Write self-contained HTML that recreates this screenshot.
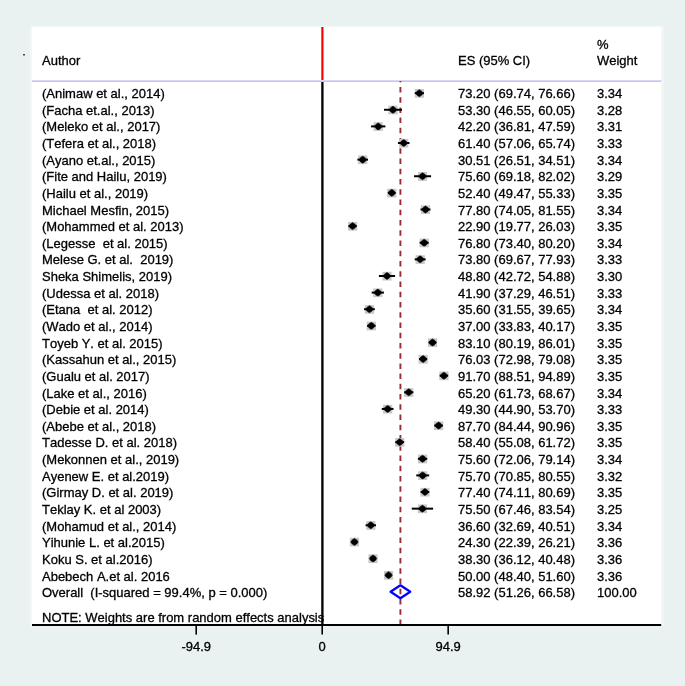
<!DOCTYPE html>
<html><head><meta charset="utf-8"><title>Forest plot</title><style>
html,body{margin:0;padding:0;width:685px;height:686px;overflow:hidden;background:#eaf1f1;}
svg{display:block;will-change:transform;}
text{font-family:"Liberation Sans",sans-serif;font-size:13px;fill:#000;white-space:pre;font-kerning:none;stroke:#000;stroke-width:0.3px;}
</style></head><body>
<svg width="685" height="686" viewBox="0 0 685 686">
<rect x="0" y="0" width="685" height="686" fill="#eaf1f1"/>
<rect x="30" y="25.5" width="633.7" height="601" fill="#f1f7f7"/>
<rect x="32" y="27" width="629.2" height="598" fill="#fff"/>
<rect x="23" y="54" width="2" height="1.5" fill="#404080"/>
<text transform="translate(42.00 65.00) scale(1 1.035)">Author</text>
<text transform="translate(458.00 65.00) scale(1 1.035)">ES (95% CI)</text>
<text transform="translate(597.00 49.00) scale(1 1.035)">%</text>
<text transform="translate(597.00 65.00) scale(1 1.035)">Weight</text>
<rect x="32" y="80" width="629.2" height="1" fill="#d8d8f4"/>
<rect x="32" y="81" width="629.2" height="1" fill="#c9c9d0"/>
<line x1="322.4" y1="27" x2="322.4" y2="80" stroke="#ff0000" stroke-width="2.2"/>
<line x1="322.4" y1="82" x2="322.4" y2="625" stroke="#8a2828" stroke-width="2.5"/>
<line x1="322.4" y1="82" x2="322.4" y2="625" stroke="#000" stroke-width="1.5"/>
<line x1="400.416" y1="81" x2="400.416" y2="625" stroke="#982c34" stroke-width="1.9" stroke-dasharray="5.5 4.74" stroke-dashoffset="4.34"/>
<rect x="414.77" y="89.00" width="9.2" height="8.7" fill="#c8c8c8"/>
<line x1="414.78" y1="93.15" x2="423.97" y2="93.15" stroke="#000" stroke-width="2"/>
<path d="M419.37 89.65Q421.96 90.70 423.07 93.15Q421.96 95.60 419.37 96.65Q416.78 95.60 415.67 93.15Q416.78 90.70 419.37 89.65Z" fill="#000" stroke="#000" stroke-width="0.6" stroke-linejoin="round"/>
<text transform="translate(42.00 98.10) scale(1 1.035)">(Animaw et al., 2014)</text>
<text transform="translate(458.00 98.10) scale(1 1.035)">73.20 (69.74, 76.66)</text>
<text transform="translate(597.00 98.10) scale(1 1.035)">3.34</text>
<rect x="388.36" y="105.62" width="9.2" height="8.7" fill="#c8c8c8"/>
<line x1="384.00" y1="109.77" x2="401.92" y2="109.77" stroke="#000" stroke-width="2"/>
<path d="M392.96 106.27Q395.55 107.32 396.66 109.77Q395.55 112.22 392.96 113.27Q390.37 112.22 389.26 109.77Q390.37 107.32 392.96 106.27Z" fill="#000" stroke="#000" stroke-width="0.6" stroke-linejoin="round"/>
<text transform="translate(42.00 114.74) scale(1 1.035)">(Facha et.al., 2013)</text>
<text transform="translate(458.00 114.74) scale(1 1.035)">53.30 (46.55, 60.05)</text>
<text transform="translate(597.00 114.74) scale(1 1.035)">3.28</text>
<rect x="373.62" y="122.24" width="9.2" height="8.7" fill="#c8c8c8"/>
<line x1="371.07" y1="126.39" x2="385.38" y2="126.39" stroke="#000" stroke-width="2"/>
<path d="M378.22 122.89Q380.81 123.94 381.92 126.39Q380.81 128.84 378.22 129.89Q375.63 128.84 374.52 126.39Q375.63 123.94 378.22 122.89Z" fill="#000" stroke="#000" stroke-width="0.6" stroke-linejoin="round"/>
<text transform="translate(42.00 131.37) scale(1 1.035)">(Meleko et al., 2017)</text>
<text transform="translate(458.00 131.37) scale(1 1.035)">42.20 (36.81, 47.59)</text>
<text transform="translate(597.00 131.37) scale(1 1.035)">3.31</text>
<rect x="399.11" y="138.86" width="9.2" height="8.7" fill="#c8c8c8"/>
<line x1="397.95" y1="143.01" x2="409.47" y2="143.01" stroke="#000" stroke-width="2"/>
<path d="M403.71 139.51Q406.30 140.56 407.41 143.01Q406.30 145.46 403.71 146.51Q401.12 145.46 400.01 143.01Q401.12 140.56 403.71 139.51Z" fill="#000" stroke="#000" stroke-width="0.6" stroke-linejoin="round"/>
<text transform="translate(42.00 148.00) scale(1 1.035)">(Tefera et al., 2018)</text>
<text transform="translate(458.00 148.00) scale(1 1.035)">61.40 (57.06, 65.74)</text>
<text transform="translate(597.00 148.00) scale(1 1.035)">3.33</text>
<rect x="358.10" y="155.48" width="9.2" height="8.7" fill="#c8c8c8"/>
<line x1="357.39" y1="159.63" x2="368.01" y2="159.63" stroke="#000" stroke-width="2"/>
<path d="M362.70 156.13Q365.29 157.18 366.40 159.63Q365.29 162.08 362.70 163.13Q360.11 162.08 359.00 159.63Q360.11 157.18 362.70 156.13Z" fill="#000" stroke="#000" stroke-width="0.6" stroke-linejoin="round"/>
<text transform="translate(42.00 164.64) scale(1 1.035)">(Ayano et.al., 2015)</text>
<text transform="translate(458.00 164.64) scale(1 1.035)">30.51 (26.51, 34.51)</text>
<text transform="translate(597.00 164.64) scale(1 1.035)">3.34</text>
<rect x="417.96" y="172.10" width="9.2" height="8.7" fill="#c8c8c8"/>
<line x1="414.04" y1="176.25" x2="431.08" y2="176.25" stroke="#000" stroke-width="2"/>
<path d="M422.56 172.75Q425.15 173.80 426.26 176.25Q425.15 178.70 422.56 179.75Q419.97 178.70 418.86 176.25Q419.97 173.80 422.56 172.75Z" fill="#000" stroke="#000" stroke-width="0.6" stroke-linejoin="round"/>
<text transform="translate(42.00 181.28) scale(1 1.035)">(Fite and Hailu, 2019)</text>
<text transform="translate(458.00 181.28) scale(1 1.035)">75.60 (69.18, 82.02)</text>
<text transform="translate(597.00 181.28) scale(1 1.035)">3.29</text>
<rect x="387.16" y="188.72" width="9.2" height="8.7" fill="#c8c8c8"/>
<line x1="387.87" y1="192.87" x2="395.65" y2="192.87" stroke="#000" stroke-width="2"/>
<path d="M391.76 189.37Q394.35 190.42 395.46 192.87Q394.35 195.32 391.76 196.37Q389.17 195.32 388.06 192.87Q389.17 190.42 391.76 189.37Z" fill="#000" stroke="#000" stroke-width="0.6" stroke-linejoin="round"/>
<text transform="translate(42.00 197.91) scale(1 1.035)">(Hailu et al., 2019)</text>
<text transform="translate(458.00 197.91) scale(1 1.035)">52.40 (49.47, 55.33)</text>
<text transform="translate(597.00 197.91) scale(1 1.035)">3.35</text>
<rect x="420.88" y="205.34" width="9.2" height="8.7" fill="#c8c8c8"/>
<line x1="420.50" y1="209.49" x2="430.46" y2="209.49" stroke="#000" stroke-width="2"/>
<path d="M425.48 205.99Q428.07 207.04 429.18 209.49Q428.07 211.94 425.48 212.99Q422.89 211.94 421.78 209.49Q422.89 207.04 425.48 205.99Z" fill="#000" stroke="#000" stroke-width="0.6" stroke-linejoin="round"/>
<text transform="translate(42.00 214.55) scale(1 1.035)">Michael Mesfin, 2015)</text>
<text transform="translate(458.00 214.55) scale(1 1.035)">77.80 (74.05, 81.55)</text>
<text transform="translate(597.00 214.55) scale(1 1.035)">3.34</text>
<rect x="348.00" y="221.96" width="9.2" height="8.7" fill="#c8c8c8"/>
<line x1="348.44" y1="226.11" x2="356.75" y2="226.11" stroke="#000" stroke-width="2"/>
<path d="M352.60 222.61Q355.19 223.66 356.30 226.11Q355.19 228.56 352.60 229.61Q350.01 228.56 348.90 226.11Q350.01 223.66 352.60 222.61Z" fill="#000" stroke="#000" stroke-width="0.6" stroke-linejoin="round"/>
<text transform="translate(42.00 231.18) scale(1 1.035)">(Mohammed et al. 2013)</text>
<text transform="translate(458.00 231.18) scale(1 1.035)">22.90 (19.77, 26.03)</text>
<text transform="translate(597.00 231.18) scale(1 1.035)">3.35</text>
<rect x="419.55" y="238.58" width="9.2" height="8.7" fill="#c8c8c8"/>
<line x1="419.64" y1="242.73" x2="428.67" y2="242.73" stroke="#000" stroke-width="2"/>
<path d="M424.15 239.23Q426.74 240.28 427.85 242.73Q426.74 245.18 424.15 246.23Q421.56 245.18 420.45 242.73Q421.56 240.28 424.15 239.23Z" fill="#000" stroke="#000" stroke-width="0.6" stroke-linejoin="round"/>
<text transform="translate(42.00 247.81) scale(1 1.035)">(Legesse  et al. 2015)</text>
<text transform="translate(458.00 247.81) scale(1 1.035)">76.80 (73.40, 80.20)</text>
<text transform="translate(597.00 247.81) scale(1 1.035)">3.34</text>
<rect x="415.57" y="255.20" width="9.2" height="8.7" fill="#c8c8c8"/>
<line x1="414.69" y1="259.35" x2="425.65" y2="259.35" stroke="#000" stroke-width="2"/>
<path d="M420.17 255.85Q422.76 256.90 423.87 259.35Q422.76 261.80 420.17 262.85Q417.58 261.80 416.47 259.35Q417.58 256.90 420.17 255.85Z" fill="#000" stroke="#000" stroke-width="0.6" stroke-linejoin="round"/>
<text transform="translate(42.00 264.45) scale(1 1.035)">Melese G. et al.  2019)</text>
<text transform="translate(458.00 264.45) scale(1 1.035)">73.80 (69.67, 77.93)</text>
<text transform="translate(597.00 264.45) scale(1 1.035)">3.33</text>
<rect x="382.38" y="271.82" width="9.2" height="8.7" fill="#c8c8c8"/>
<line x1="378.91" y1="275.97" x2="395.05" y2="275.97" stroke="#000" stroke-width="2"/>
<path d="M386.98 272.47Q389.57 273.52 390.68 275.97Q389.57 278.42 386.98 279.47Q384.39 278.42 383.28 275.97Q384.39 273.52 386.98 272.47Z" fill="#000" stroke="#000" stroke-width="0.6" stroke-linejoin="round"/>
<text transform="translate(42.00 281.08) scale(1 1.035)">Sheka Shimelis, 2019)</text>
<text transform="translate(458.00 281.08) scale(1 1.035)">48.80 (42.72, 54.88)</text>
<text transform="translate(597.00 281.08) scale(1 1.035)">3.30</text>
<rect x="373.22" y="288.44" width="9.2" height="8.7" fill="#c8c8c8"/>
<line x1="371.70" y1="292.59" x2="383.94" y2="292.59" stroke="#000" stroke-width="2"/>
<path d="M377.82 289.09Q380.41 290.14 381.52 292.59Q380.41 295.04 377.82 296.09Q375.23 295.04 374.12 292.59Q375.23 290.14 377.82 289.09Z" fill="#000" stroke="#000" stroke-width="0.6" stroke-linejoin="round"/>
<text transform="translate(42.00 297.72) scale(1 1.035)">(Udessa et al. 2018)</text>
<text transform="translate(458.00 297.72) scale(1 1.035)">41.90 (37.29, 46.51)</text>
<text transform="translate(597.00 297.72) scale(1 1.035)">3.33</text>
<rect x="364.86" y="305.06" width="9.2" height="8.7" fill="#c8c8c8"/>
<line x1="364.08" y1="309.21" x2="374.84" y2="309.21" stroke="#000" stroke-width="2"/>
<path d="M369.46 305.71Q372.05 306.76 373.16 309.21Q372.05 311.66 369.46 312.71Q366.87 311.66 365.76 309.21Q366.87 306.76 369.46 305.71Z" fill="#000" stroke="#000" stroke-width="0.6" stroke-linejoin="round"/>
<text transform="translate(42.00 314.36) scale(1 1.035)">(Etana  et al. 2012)</text>
<text transform="translate(458.00 314.36) scale(1 1.035)">35.60 (31.55, 39.65)</text>
<text transform="translate(597.00 314.36) scale(1 1.035)">3.34</text>
<rect x="366.72" y="321.68" width="9.2" height="8.7" fill="#c8c8c8"/>
<line x1="367.11" y1="325.83" x2="375.53" y2="325.83" stroke="#000" stroke-width="2"/>
<path d="M371.32 322.33Q373.91 323.38 375.02 325.83Q373.91 328.28 371.32 329.33Q368.73 328.28 367.62 325.83Q368.73 323.38 371.32 322.33Z" fill="#000" stroke="#000" stroke-width="0.6" stroke-linejoin="round"/>
<text transform="translate(42.00 330.99) scale(1 1.035)">(Wado et al., 2014)</text>
<text transform="translate(458.00 330.99) scale(1 1.035)">37.00 (33.83, 40.17)</text>
<text transform="translate(597.00 330.99) scale(1 1.035)">3.35</text>
<rect x="427.92" y="338.30" width="9.2" height="8.7" fill="#c8c8c8"/>
<line x1="428.65" y1="342.45" x2="436.38" y2="342.45" stroke="#000" stroke-width="2"/>
<path d="M432.52 338.95Q435.11 340.00 436.22 342.45Q435.11 344.90 432.52 345.95Q429.93 344.90 428.82 342.45Q429.93 340.00 432.52 338.95Z" fill="#000" stroke="#000" stroke-width="0.6" stroke-linejoin="round"/>
<text transform="translate(42.00 347.63) scale(1 1.035)">Toyeb Y. et al. 2015)</text>
<text transform="translate(458.00 347.63) scale(1 1.035)">83.10 (80.19, 86.01)</text>
<text transform="translate(597.00 347.63) scale(1 1.035)">3.35</text>
<rect x="418.53" y="354.92" width="9.2" height="8.7" fill="#c8c8c8"/>
<line x1="419.08" y1="359.07" x2="427.18" y2="359.07" stroke="#000" stroke-width="2"/>
<path d="M423.13 355.57Q425.72 356.62 426.83 359.07Q425.72 361.52 423.13 362.57Q420.54 361.52 419.43 359.07Q420.54 356.62 423.13 355.57Z" fill="#000" stroke="#000" stroke-width="0.6" stroke-linejoin="round"/>
<text transform="translate(42.00 364.26) scale(1 1.035)">(Kassahun et al., 2015)</text>
<text transform="translate(458.00 364.26) scale(1 1.035)">76.03 (72.98, 79.08)</text>
<text transform="translate(597.00 364.26) scale(1 1.035)">3.35</text>
<rect x="439.33" y="371.54" width="9.2" height="8.7" fill="#c8c8c8"/>
<line x1="439.70" y1="375.69" x2="448.17" y2="375.69" stroke="#000" stroke-width="2"/>
<path d="M443.93 372.19Q446.52 373.24 447.63 375.69Q446.52 378.14 443.93 379.19Q441.34 378.14 440.23 375.69Q441.34 373.24 443.93 372.19Z" fill="#000" stroke="#000" stroke-width="0.6" stroke-linejoin="round"/>
<text transform="translate(42.00 380.90) scale(1 1.035)">(Gualu et al. 2017)</text>
<text transform="translate(458.00 380.90) scale(1 1.035)">91.70 (88.51, 94.89)</text>
<text transform="translate(597.00 380.90) scale(1 1.035)">3.35</text>
<rect x="404.15" y="388.16" width="9.2" height="8.7" fill="#c8c8c8"/>
<line x1="404.15" y1="392.31" x2="413.36" y2="392.31" stroke="#000" stroke-width="2"/>
<path d="M408.75 388.81Q411.34 389.86 412.45 392.31Q411.34 394.76 408.75 395.81Q406.16 394.76 405.05 392.31Q406.16 389.86 408.75 388.81Z" fill="#000" stroke="#000" stroke-width="0.6" stroke-linejoin="round"/>
<text transform="translate(42.00 397.53) scale(1 1.035)">(Lake et al., 2016)</text>
<text transform="translate(458.00 397.53) scale(1 1.035)">65.20 (61.73, 68.67)</text>
<text transform="translate(597.00 397.53) scale(1 1.035)">3.34</text>
<rect x="383.05" y="404.78" width="9.2" height="8.7" fill="#c8c8c8"/>
<line x1="381.80" y1="408.93" x2="393.49" y2="408.93" stroke="#000" stroke-width="2"/>
<path d="M387.65 405.43Q390.24 406.48 391.35 408.93Q390.24 411.38 387.65 412.43Q385.06 411.38 383.95 408.93Q385.06 406.48 387.65 405.43Z" fill="#000" stroke="#000" stroke-width="0.6" stroke-linejoin="round"/>
<text transform="translate(42.00 414.17) scale(1 1.035)">(Debie et al. 2014)</text>
<text transform="translate(458.00 414.17) scale(1 1.035)">49.30 (44.90, 53.70)</text>
<text transform="translate(597.00 414.17) scale(1 1.035)">3.33</text>
<rect x="434.02" y="421.40" width="9.2" height="8.7" fill="#c8c8c8"/>
<line x1="434.29" y1="425.55" x2="442.95" y2="425.55" stroke="#000" stroke-width="2"/>
<path d="M438.62 422.05Q441.21 423.10 442.32 425.55Q441.21 428.00 438.62 429.05Q436.03 428.00 434.92 425.55Q436.03 423.10 438.62 422.05Z" fill="#000" stroke="#000" stroke-width="0.6" stroke-linejoin="round"/>
<text transform="translate(42.00 430.80) scale(1 1.035)">(Abebe et al., 2018)</text>
<text transform="translate(458.00 430.80) scale(1 1.035)">87.70 (84.44, 90.96)</text>
<text transform="translate(597.00 430.80) scale(1 1.035)">3.35</text>
<rect x="395.13" y="438.02" width="9.2" height="8.7" fill="#c8c8c8"/>
<line x1="395.32" y1="442.17" x2="404.13" y2="442.17" stroke="#000" stroke-width="2"/>
<path d="M399.73 438.67Q402.32 439.72 403.43 442.17Q402.32 444.62 399.73 445.67Q397.14 444.62 396.03 442.17Q397.14 439.72 399.73 438.67Z" fill="#000" stroke="#000" stroke-width="0.6" stroke-linejoin="round"/>
<text transform="translate(42.00 447.44) scale(1 1.035)">Tadesse D. et al. 2018)</text>
<text transform="translate(458.00 447.44) scale(1 1.035)">58.40 (55.08, 61.72)</text>
<text transform="translate(597.00 447.44) scale(1 1.035)">3.35</text>
<rect x="417.96" y="454.64" width="9.2" height="8.7" fill="#c8c8c8"/>
<line x1="417.86" y1="458.79" x2="427.26" y2="458.79" stroke="#000" stroke-width="2"/>
<path d="M422.56 455.29Q425.15 456.34 426.26 458.79Q425.15 461.24 422.56 462.29Q419.97 461.24 418.86 458.79Q419.97 456.34 422.56 455.29Z" fill="#000" stroke="#000" stroke-width="0.6" stroke-linejoin="round"/>
<text transform="translate(42.00 464.07) scale(1 1.035)">(Mekonnen et al., 2019)</text>
<text transform="translate(458.00 464.07) scale(1 1.035)">75.60 (72.06, 79.14)</text>
<text transform="translate(597.00 464.07) scale(1 1.035)">3.34</text>
<rect x="418.09" y="471.26" width="9.2" height="8.7" fill="#c8c8c8"/>
<line x1="416.25" y1="475.41" x2="429.13" y2="475.41" stroke="#000" stroke-width="2"/>
<path d="M422.69 471.91Q425.28 472.96 426.39 475.41Q425.28 477.86 422.69 478.91Q420.10 477.86 418.99 475.41Q420.10 472.96 422.69 471.91Z" fill="#000" stroke="#000" stroke-width="0.6" stroke-linejoin="round"/>
<text transform="translate(42.00 480.70) scale(1 1.035)">Ayenew E. et al.2019)</text>
<text transform="translate(458.00 480.70) scale(1 1.035)">75.70 (70.85, 80.55)</text>
<text transform="translate(597.00 480.70) scale(1 1.035)">3.32</text>
<rect x="420.35" y="487.88" width="9.2" height="8.7" fill="#c8c8c8"/>
<line x1="420.58" y1="492.03" x2="429.32" y2="492.03" stroke="#000" stroke-width="2"/>
<path d="M424.95 488.53Q427.54 489.58 428.65 492.03Q427.54 494.48 424.95 495.53Q422.36 494.48 421.25 492.03Q422.36 489.58 424.95 488.53Z" fill="#000" stroke="#000" stroke-width="0.6" stroke-linejoin="round"/>
<text transform="translate(42.00 497.34) scale(1 1.035)">(Girmay D. et al. 2019)</text>
<text transform="translate(458.00 497.34) scale(1 1.035)">77.40 (74.11, 80.69)</text>
<text transform="translate(597.00 497.34) scale(1 1.035)">3.35</text>
<rect x="417.83" y="504.50" width="9.2" height="8.7" fill="#c8c8c8"/>
<line x1="411.75" y1="508.65" x2="433.10" y2="508.65" stroke="#000" stroke-width="2"/>
<path d="M422.43 505.15Q425.02 506.20 426.13 508.65Q425.02 511.10 422.43 512.15Q419.84 511.10 418.73 508.65Q419.84 506.20 422.43 505.15Z" fill="#000" stroke="#000" stroke-width="0.6" stroke-linejoin="round"/>
<text transform="translate(42.00 513.98) scale(1 1.035)">Teklay K. et al 2003)</text>
<text transform="translate(458.00 513.98) scale(1 1.035)">75.50 (67.46, 83.54)</text>
<text transform="translate(597.00 513.98) scale(1 1.035)">3.25</text>
<rect x="366.19" y="521.12" width="9.2" height="8.7" fill="#c8c8c8"/>
<line x1="365.60" y1="525.27" x2="375.98" y2="525.27" stroke="#000" stroke-width="2"/>
<path d="M370.79 521.77Q373.38 522.82 374.49 525.27Q373.38 527.72 370.79 528.77Q368.20 527.72 367.09 525.27Q368.20 522.82 370.79 521.77Z" fill="#000" stroke="#000" stroke-width="0.6" stroke-linejoin="round"/>
<text transform="translate(42.00 530.61) scale(1 1.035)">(Mohamud et al., 2014)</text>
<text transform="translate(458.00 530.61) scale(1 1.035)">36.60 (32.69, 40.51)</text>
<text transform="translate(597.00 530.61) scale(1 1.035)">3.34</text>
<rect x="349.86" y="537.74" width="9.2" height="8.7" fill="#c8c8c8"/>
<line x1="351.92" y1="541.89" x2="356.99" y2="541.89" stroke="#000" stroke-width="2"/>
<path d="M354.46 538.39Q357.05 539.44 358.16 541.89Q357.05 544.34 354.46 545.39Q351.87 544.34 350.76 541.89Q351.87 539.44 354.46 538.39Z" fill="#000" stroke="#000" stroke-width="0.6" stroke-linejoin="round"/>
<text transform="translate(42.00 547.25) scale(1 1.035)">Yihunie L. et al.2015)</text>
<text transform="translate(458.00 547.25) scale(1 1.035)">24.30 (22.39, 26.21)</text>
<text transform="translate(597.00 547.25) scale(1 1.035)">3.36</text>
<rect x="368.44" y="554.36" width="9.2" height="8.7" fill="#c8c8c8"/>
<line x1="370.15" y1="558.51" x2="375.94" y2="558.51" stroke="#000" stroke-width="2"/>
<path d="M373.04 555.01Q375.63 556.06 376.74 558.51Q375.63 560.96 373.04 562.01Q370.45 560.96 369.34 558.51Q370.45 556.06 373.04 555.01Z" fill="#000" stroke="#000" stroke-width="0.6" stroke-linejoin="round"/>
<text transform="translate(42.00 563.88) scale(1 1.035)">Koku S. et al.2016)</text>
<text transform="translate(458.00 563.88) scale(1 1.035)">38.30 (36.12, 40.48)</text>
<text transform="translate(597.00 563.88) scale(1 1.035)">3.36</text>
<rect x="383.97" y="570.98" width="9.2" height="8.7" fill="#c8c8c8"/>
<line x1="386.45" y1="575.13" x2="390.70" y2="575.13" stroke="#000" stroke-width="2"/>
<path d="M388.57 571.63Q391.16 572.68 392.27 575.13Q391.16 577.58 388.57 578.63Q385.99 577.58 384.88 575.13Q385.99 572.68 388.57 571.63Z" fill="#000" stroke="#000" stroke-width="0.6" stroke-linejoin="round"/>
<text transform="translate(42.00 580.52) scale(1 1.035)">Abebech A.et al. 2016</text>
<text transform="translate(458.00 580.52) scale(1 1.035)">50.00 (48.40, 51.60)</text>
<text transform="translate(597.00 580.52) scale(1 1.035)">3.36</text>
<path d="M390.55 591.75L400.42 585.25L410.28 591.75L400.42 598.25Z" fill="none" stroke="#0000ff" stroke-width="2.2" stroke-linejoin="round"/>
<text transform="translate(42.00 597.15) scale(1 1.035)">Overall  (I-squared = 99.4%, p = 0.000)</text>
<text transform="translate(458.00 597.15) scale(1 1.035)">58.92 (51.26, 66.58)</text>
<text transform="translate(597.00 597.15) scale(1 1.035)">100.00</text>
<text transform="translate(42.00 621.70) scale(1 1.035)">NOTE: Weights are from random effects analysis</text>
<line x1="32" y1="625.05" x2="661.2" y2="625.05" stroke="#000" stroke-width="1.9"/>
<line x1="196.22" y1="624.8" x2="196.22" y2="634.6" stroke="#000" stroke-width="1.6"/>
<text transform="translate(196.22 651.00) scale(1 1.035)" text-anchor="middle">-94.9</text>
<line x1="322.20" y1="624.8" x2="322.20" y2="634.6" stroke="#000" stroke-width="1.6"/>
<text transform="translate(322.20 651.00) scale(1 1.035)" text-anchor="middle">0</text>
<line x1="448.18" y1="624.8" x2="448.18" y2="634.6" stroke="#000" stroke-width="1.6"/>
<text transform="translate(448.18 651.00) scale(1 1.035)" text-anchor="middle">94.9</text>
</svg>
</body></html>
